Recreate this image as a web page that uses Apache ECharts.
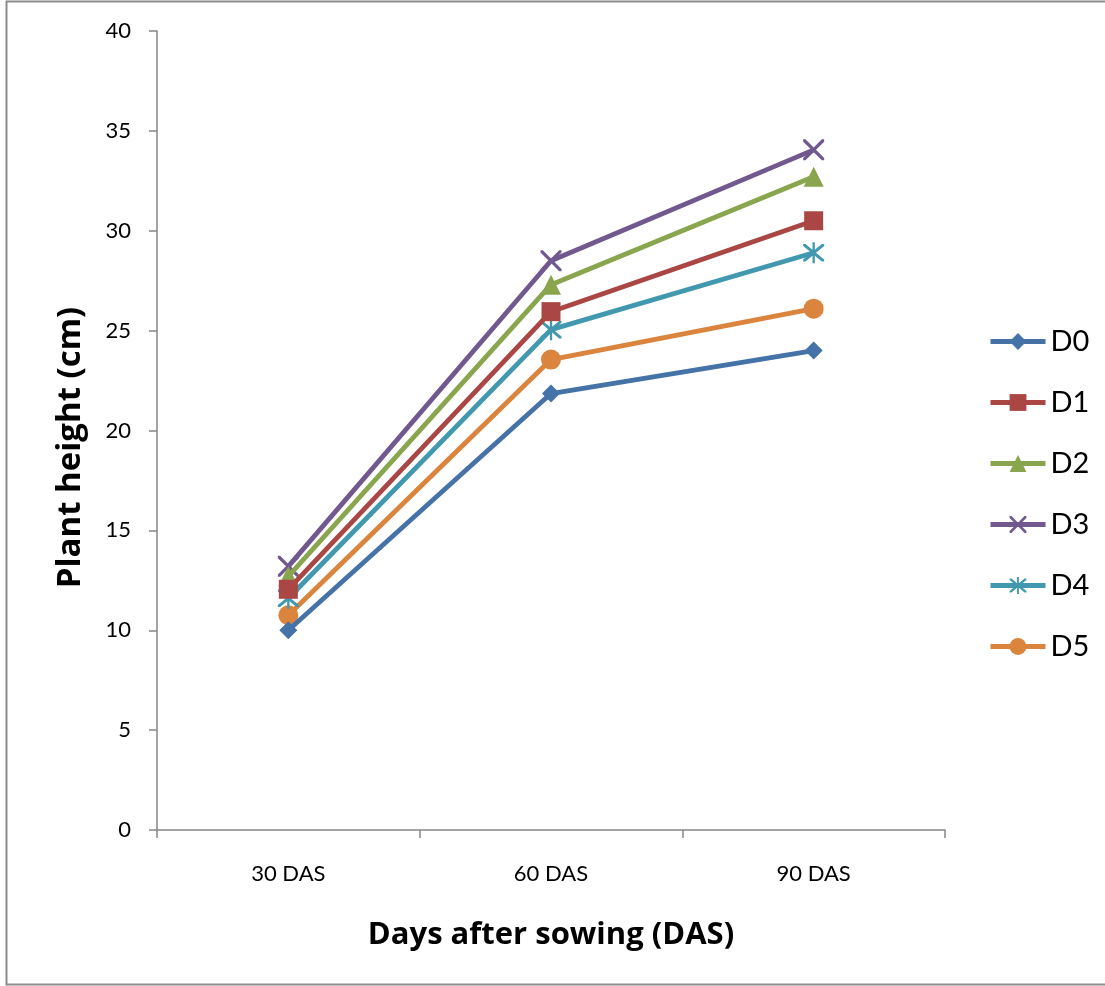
<!DOCTYPE html>
<html>
<head>
<meta charset="utf-8">
<script src="https://cdn.jsdelivr.net/npm/echarts@6/dist/echarts.min.js"></script>
<style>html,body{margin:0;padding:0;background:#fff;}#c{width:1105px;height:986px;}</style>
</head>
<body>
<div id="c"></div>
<script>
var categories = ['30 DAS', '60 DAS', '90 DAS'];
var seriesNames = ['D0', 'D1', 'D2', 'D3', 'D4', 'D5'];
var D0 = [10.0, 21.85, 24.0];
var D1 = [12.05, 25.95, 30.5];
var D2 = [12.7, 27.3, 32.7];
var D3 = [13.2, 28.5, 34.05];
var D4 = [11.6, 25.05, 28.9];
var D5 = [10.75, 23.55, 26.1];
var yTicks = {min: 0, max: 40, interval: 5};

var colors = ['#4572A7', '#AA4643', '#89A54E', '#71588F', '#4198AF', '#DB843D'];
var xPath = 'path://M0,0 L2.2,0 L10,7.8 L17.8,0 L20,0 L20,2.2 L12.2,10 L20,17.8 L20,20 L17.8,20 L10,12.2 L2.2,20 L0,20 L0,17.8 L7.8,10 L0,2.2 Z';
var starPath = 'path://M0,0 L2.2,0 L10,7.8 L17.8,0 L20,0 L20,2.2 L12.2,10 L20,17.8 L20,20 L17.8,20 L10,12.2 L2.2,20 L0,20 L0,17.8 L7.8,10 L0,2.2 Z M8.9,-2 L11.1,-2 L11.1,22 L8.9,22 Z';
var symbols = ['diamond', 'rect', 'triangle', xPath, starPath, 'circle'];
var sizes = [18, 19, 20, 21, 21, 20];
var dataAll = [D0, D1, D2, D3, D4, D5];
var FONT = 'Lato';
var TFONT = 'Open Sans';

var series = seriesNames.map(function (n, i) {
  return {
    name: n, type: 'line', data: dataAll[i],
    symbol: symbols[i], symbolSize: sizes[i], showAllSymbol: true,
    lineStyle: {color: colors[i], width: 4.8},
    itemStyle: {color: colors[i], borderWidth: 0},
    emphasis: {disabled: true},
    z: 10 - i
  };
});

var chart = echarts.init(document.getElementById('c'), null, {renderer: 'canvas'});
chart.setOption({
  animation: false,
  backgroundColor: '#fff',
  textStyle: {fontFamily: FONT},
  grid: {left: 157, right: 160, top: 31, bottom: 156, containLabel: false},
  graphic: [{
    type: 'rect', shape: {x: 6.5, y: 1.5, width: 1120, height: 983},
    style: {fill: 'none', stroke: '#8c8c8c', lineWidth: 2}, silent: true, z: -1
  }],
  legend: {
    orient: 'vertical', left: 983, top: 322,
    itemWidth: 55, itemHeight: 21, itemGap: 32,
    data: seriesNames,
    lineStyle: {width: 5},
    textStyle: {fontFamily: FONT, fontSize: 29, color: '#000', padding: [0, 0, 0, 0]},
    selectedMode: false
  },
  xAxis: {
    type: 'category', data: categories, boundaryGap: true,
    name: 'Days after sowing (DAS)', nameLocation: 'middle', nameGap: 90,
    nameTextStyle: {fontFamily: TFONT, fontSize: 31, fontWeight: 'bold', color: '#000'},
    axisLine: {lineStyle: {color: '#868686', width: 1.5}},
    axisTick: {show: true, inside: false, length: 8, alignWithLabel: false, lineStyle: {color: '#868686', width: 1.5}},
    axisLabel: {fontFamily: FONT, fontSize: 22, color: '#000', margin: 33},
    splitLine: {show: false}
  },
  yAxis: {
    type: 'value', min: yTicks.min, max: yTicks.max, interval: yTicks.interval,
    name: 'Plant height (cm)', nameLocation: 'middle', nameGap: 70, nameRotate: 90,
    nameTextStyle: {fontFamily: TFONT, fontSize: 33, fontWeight: 'bold', color: '#000', padding: [0, 34, 0, 0]},
    axisLine: {show: true, lineStyle: {color: '#868686', width: 1.5}},
    axisTick: {show: true, inside: false, length: 8, lineStyle: {color: '#868686', width: 1.5}},
    axisLabel: {fontFamily: FONT, fontSize: 22, color: '#000', margin: 26},
    splitLine: {show: false}
  },
  series: series
});
</script>
</body>
</html>
